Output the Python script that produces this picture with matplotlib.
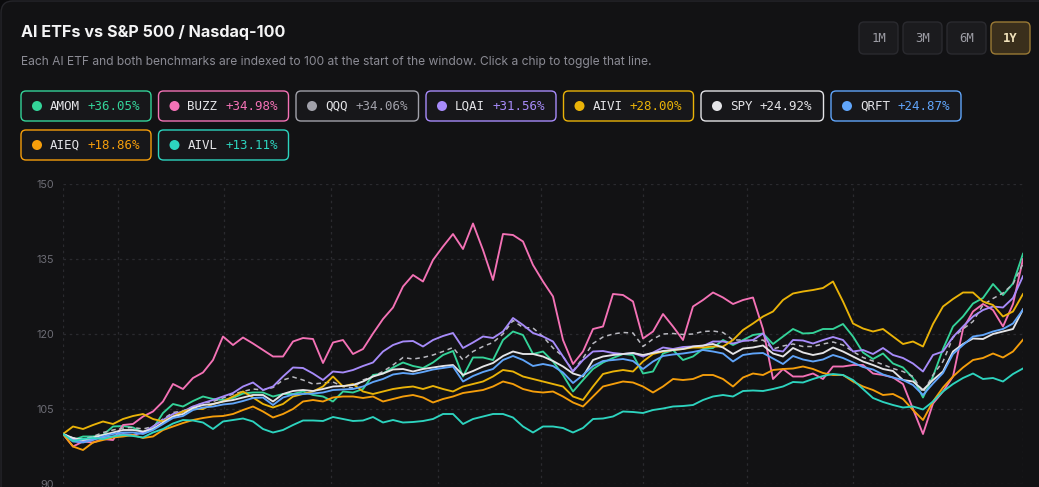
import numpy as np
import matplotlib
matplotlib.use("Agg")
import matplotlib.pyplot as plt
import matplotlib.transforms as mtransforms
from matplotlib.patches import FancyBboxPatch, Circle

# index level (start = 100), one sample every few sessions over the 1Y window
amom = [100.0, 98.8, 99.5, 99.5, 99.8, 101.5, 101.6, 101.3, 100.3, 101.1,
        104.2, 106.0, 105.5, 106.6, 107.5, 107.0, 106.8, 107.2, 108.1, 108.3,
        108.3, 107.5, 108.0, 108.0, 108.5, 107.8, 107.5, 106.5, 108.5, 108.3,
        109.0, 111.8, 112.1, 113.3, 114.3, 113.6, 113.2, 114.3, 115.8, 116.6,
        111.5, 115.3, 115.3, 114.8, 118.8, 120.5, 119.8, 116.0, 116.5, 114.5,
        111.8, 108.5, 110.8, 113.0, 114.3, 115.2, 116.0, 115.8, 112.1, 112.5,
        116.1, 116.8, 114.8, 115.5, 117.0, 117.2, 118.8, 117.8, 118.8, 119.8,
        120.1, 118.0, 119.5, 121.0, 120.1, 120.2, 121.0, 121.0, 122.0, 119.5,
        116.3, 115.0, 116.1, 114.1, 113.3, 111.2, 107.3, 111.5, 117.0, 121.5,
        123.5, 126.1, 127.2, 130.0, 127.8, 130.1, 136.05]
buzz = [100.0, 97.5, 98.5, 98.3, 99.0, 98.8, 101.8, 102.0, 103.5, 104.5,
        106.5, 110.0, 109.0, 111.2, 112.3, 114.8, 119.5, 117.8, 119.3, 118.1,
        116.8, 115.5, 115.5, 118.5, 119.2, 119.0, 114.2, 118.3, 118.8, 116.0,
        117.0, 120.1, 123.0, 125.3, 129.5, 131.8, 130.5, 134.8, 137.5, 140.0,
        137.0, 142.1, 136.8, 130.8, 140.0, 139.8, 138.5, 133.8, 130.5, 127.5,
        118.8, 114.0, 116.5, 121.0, 121.5, 128.0, 127.8, 126.5, 119.1, 120.5,
        124.0, 121.5, 118.8, 125.5, 126.8, 128.3, 127.3, 126.0, 126.8, 127.3,
        121.0, 111.0, 113.0, 111.5, 111.5, 112.1, 111.0, 113.5, 113.5, 113.8,
        113.8, 112.1, 111.8, 111.3, 110.0, 105.0, 100.0, 106.1, 108.5, 111.5,
        121.0, 124.5, 126.0, 124.8, 121.5, 126.0, 134.98]
qqq = [100.0, 99.2, 99.0, 99.5, 100.3, 100.8, 101.2, 101.3, 101.0, 101.5,
       103.0, 104.3, 104.6, 105.5, 106.2, 106.5, 107.2, 108.0, 108.5, 109.0,
       108.8, 109.3, 110.8, 111.4, 110.8, 110.0, 110.2, 110.4, 109.5, 109.2,
       110.8, 111.5, 112.5, 113.8, 115.3, 115.0, 115.3, 115.8, 116.5, 117.3,
       114.8, 116.5, 117.5, 118.3, 120.0, 122.7, 121.3, 121.2, 119.5, 117.2,
       115.5, 112.6, 115.2, 118.1, 119.4, 120.0, 120.3, 120.2, 117.5, 119.0,
       120.0, 120.1, 119.9, 120.0, 120.5, 120.6, 120.3, 118.8, 118.8, 118.6,
       118.8, 117.0, 117.6, 118.0, 117.5, 117.5, 118.0, 118.4, 117.8, 116.5,
       115.3, 114.6, 113.9, 113.1, 112.5, 111.5, 108.3, 111.8, 114.5, 119.3,
       121.0, 122.5, 125.8, 127.1, 128.2, 130.0, 134.06]
lqai = [100.0, 99.0, 98.5, 99.0, 99.3, 99.5, 100.0, 99.8, 100.3, 101.5,
        102.8, 104.0, 104.5, 105.5, 106.2, 106.8, 107.5, 108.2, 109.5, 110.3,
        108.8, 109.5, 111.5, 113.3, 113.2, 112.1, 110.8, 112.5, 112.3, 112.8,
        113.6, 114.3, 116.5, 117.8, 118.5, 118.6, 117.5, 118.8, 119.6, 120.2,
        117.2, 118.3, 119.5, 119.2, 120.5, 123.2, 121.8, 120.2, 119.5, 118.5,
        115.5, 112.5, 114.8, 116.5, 116.6, 116.2, 116.0, 116.2, 115.5, 116.3,
        117.3, 117.0, 117.4, 117.5, 117.6, 118.5, 118.5, 118.1, 118.6, 118.8,
        120.1, 116.8, 116.5, 118.8, 118.7, 118.1, 118.8, 119.4, 118.8, 116.5,
        116.8, 116.0, 117.2, 115.8, 115.2, 114.1, 112.5, 115.8, 116.5, 119.4,
        121.5, 123.5, 124.8, 125.5, 125.3, 127.2, 131.56]
aivi = [100.0, 101.5, 101.0, 101.8, 102.5, 102.0, 103.0, 103.6, 104.0, 103.0,
        102.5, 103.5, 104.5, 105.0, 105.0, 106.0, 106.5, 107.5, 108.5, 107.3,
        106.0, 105.3, 106.0, 107.5, 108.0, 108.5, 109.5, 111.5, 109.5, 110.0,
        108.5, 108.0, 108.5, 109.0, 109.3, 109.5, 109.0, 109.6, 109.0, 108.5,
        109.5, 110.0, 110.5, 111.5, 112.8, 112.5, 111.5, 111.0, 110.5, 110.0,
        109.5, 107.5, 106.8, 109.5, 112.0, 112.5, 112.8, 112.5, 114.5, 116.0,
        116.5, 116.8, 117.0, 117.3, 117.3, 117.5, 117.5, 118.8, 120.8, 122.1,
        123.5, 124.5, 126.8, 128.1, 128.5, 128.8, 129.2, 130.5, 126.5, 122.1,
        121.1, 120.5, 121.0, 119.5, 118.0, 118.5, 117.5, 122.0, 125.5, 127.0,
        128.3, 128.3, 126.5, 125.8, 123.5, 124.5, 128.0]
spy = [100.0, 99.2, 98.8, 99.3, 99.8, 100.3, 100.8, 100.8, 100.5, 101.0,
       102.3, 103.5, 104.0, 105.2, 105.8, 106.0, 106.5, 106.8, 107.3, 107.8,
       107.8, 106.5, 108.0, 108.6, 108.8, 108.6, 109.0, 109.5, 109.6, 109.8,
       110.5, 111.5, 112.1, 112.9, 113.0, 112.5, 113.0, 113.3, 113.6, 113.8,
       111.8, 112.6, 113.5, 114.2, 115.6, 116.5, 116.0, 116.0, 115.5, 114.6,
       113.5, 112.1, 111.5, 114.8, 115.5, 115.8, 116.0, 116.2, 115.8, 116.2,
       116.6, 116.8, 117.0, 117.5, 117.7, 118.0, 117.3, 116.0, 117.1, 117.3,
       117.7, 116.1, 115.5, 117.2, 116.3, 115.8, 116.2, 117.3, 116.5, 115.5,
       114.5, 113.8, 113.0, 112.6, 110.8, 110.5, 108.8, 110.8, 112.5, 116.5,
       118.0, 119.1, 119.0, 120.0, 120.5, 121.0, 124.92]
qrft = [100.0, 98.5, 98.3, 98.8, 99.5, 100.0, 100.3, 100.3, 100.0, 100.8,
        102.0, 103.2, 103.6, 104.8, 105.3, 105.5, 105.9, 106.1, 106.6, 107.2,
        107.3, 105.8, 107.3, 107.9, 108.0, 108.1, 108.3, 108.8, 108.9, 109.0,
        109.5, 110.4, 111.0, 111.9, 112.2, 112.0, 112.4, 112.9, 113.2, 113.5,
        110.5, 111.6, 112.4, 113.0, 114.8, 115.6, 114.8, 113.6, 114.0, 113.6,
        112.3, 110.2, 111.8, 113.6, 114.6, 114.8, 115.0, 114.6, 113.0, 114.5,
        115.6, 115.9, 116.1, 116.4, 116.8, 116.5, 116.1, 114.5, 115.8, 116.1,
        116.2, 115.1, 114.0, 115.6, 114.9, 114.5, 114.9, 115.8, 115.2, 114.3,
        113.4, 112.9, 111.9, 111.3, 110.8, 109.8, 107.8, 110.1, 112.2, 116.0,
        117.8, 119.5, 119.8, 120.5, 121.0, 122.1, 124.87]
aieq = [100.0, 97.5, 96.8, 98.3, 98.8, 99.3, 99.5, 99.8, 99.2, 99.5,
        100.8, 101.5, 102.2, 102.8, 103.2, 103.5, 103.6, 104.0, 104.8, 105.5,
        104.5, 103.3, 104.0, 105.0, 106.5, 106.8, 106.5, 107.3, 107.5, 107.5,
        107.2, 107.5, 106.5, 107.0, 107.5, 107.8, 107.3, 106.3, 107.0, 107.5,
        108.2, 108.5, 108.8, 109.5, 110.5, 110.0, 109.0, 108.5, 108.3, 108.5,
        107.5, 106.3, 105.5, 107.5, 109.5, 110.0, 110.5, 110.3, 109.5, 108.3,
        109.5, 111.0, 110.8, 111.0, 111.8, 111.8, 111.0, 109.5, 111.3, 112.1,
        111.8, 112.8, 113.0, 113.1, 113.5, 113.0, 112.2, 111.8, 111.8, 110.5,
        109.5, 108.8, 107.8, 108.0, 107.0, 104.8, 102.8, 106.5, 109.3, 111.5,
        113.3, 114.8, 115.2, 116.1, 115.3, 116.5, 118.86]
aivl = [100.0, 98.6, 99.0, 99.2, 99.0, 99.5, 99.8, 99.6, 99.3, 100.3,
        101.0, 102.1, 102.8, 102.7, 102.3, 101.0, 102.5, 102.8, 103.1, 102.5,
        101.0, 100.3, 100.8, 101.8, 102.7, 102.7, 102.6, 103.4, 103.0, 102.6,
        102.7, 103.4, 102.3, 102.8, 102.3, 102.4, 102.6, 103.0, 104.0, 104.0,
        102.0, 103.0, 103.5, 104.0, 104.0, 103.3, 101.5, 100.3, 101.5, 101.5,
        101.2, 100.3, 101.2, 103.0, 103.1, 103.5, 104.5, 104.4, 104.2, 104.8,
        105.1, 105.5, 105.6, 105.8, 106.8, 107.5, 107.8, 107.5, 108.6, 108.7,
        108.6, 109.0, 109.5, 110.4, 110.3, 111.0, 111.6, 112.0, 111.8, 110.8,
        109.0, 107.2, 106.4, 105.8, 105.3, 105.5, 104.9, 106.5, 108.5, 110.0,
        111.2, 112.1, 111.0, 111.2, 110.5, 112.0, 113.11]

tickers = ["AMOM", "BUZZ", "QQQ", "LQAI", "AIVI", "SPY", "QRFT", "AIEQ", "AIVL"]
series = [amom, buzz, qqq, lqai, aivi, spy, qrft, aieq, aivl]
colors = ["#34d399", "#f472b6", "#a1a1aa", "#a78bfa", "#eab308",
          "#e4e4e7", "#60a5fa", "#f59e0b", "#2dd4bf"]
ranges = ["1M", "3M", "6M", "1Y"]
active_range = "1Y"
month_marks = [0, 5.5, 16.1, 26.8, 37.5, 47.8, 58.0, 68.4, 79.0, 96.0]

W, H, DPI = 1039, 487, 100
BG = "#121214"
MONO = "DejaVu Sans Mono"
SANS = ["Inter", "DejaVu Sans"]

fig = plt.figure(figsize=(W / DPI, H / DPI), dpi=DPI, facecolor="#0b0b0d")
# pixel coords, origin top-left
px = mtransforms.Affine2D().scale(1 / DPI, -1 / DPI).translate(0, H / DPI) + fig.dpi_scale_trans

fig.add_artist(FancyBboxPatch((1, 1), W + 20, H + 40, boxstyle="round,pad=0,rounding_size=12",
                              transform=px, fc=BG, ec="#26262b", lw=1, zorder=0))

fig.text(21, 32, "AI ETFs vs S&P 500 / Nasdaq-100", transform=px, fontsize=11.6,
         fontweight="bold", color="#f4f4f5", family=SANS, va="center")
fig.text(21, 62, "Each AI ETF and both benchmarks are indexed to 100 at the start of the window. "
         "Click a chip to toggle that line.", transform=px, fontsize=8.7,
         color="#8b8b94", family=SANS, va="center")

# range buttons
for i, lab in enumerate(ranges):
    x0 = 859 + i * 44
    on = lab == active_range
    fig.add_artist(FancyBboxPatch((x0, 22), 39, 32, boxstyle="round,pad=0,rounding_size=5",
                                  transform=px, fc="#3a2f1c" if on else "#1b1b1e",
                                  ec="#9a7a35" if on else "#2a2a2f", lw=1, zorder=2))
    fig.text(x0 + 19.5, 38.5, lab, transform=px, fontsize=8.8, family=MONO,
             fontweight="bold" if on else "normal",
             color="#f3e4bd" if on else "#9d9da5", ha="center", va="center", zorder=3)

# legend chips
cw = 7.5
x, y = 21, 91
for name, vals, c in zip(tickers, series, colors):
    pct = f"{(vals[-1] / vals[0] - 1) * 100:+.2f}%"
    w = 40 + (len(name) + 1 + len(pct)) * cw
    if x + w > W - 20:
        x, y = 21, y + 39
    fig.add_artist(FancyBboxPatch((x, y), w, 30, boxstyle="round,pad=0,rounding_size=5",
                                  transform=px, fc="#17171a", ec=c, lw=1, zorder=2))
    fig.add_artist(Circle((x + 16, y + 15), 5, transform=px, fc=c, ec="none", zorder=3))
    fig.text(x + 29, y + 15.5, name, transform=px, fontsize=9, family=MONO,
             color="#e4e4e7", va="center", zorder=3)
    fig.text(x + 29 + (len(name) + 1) * cw, y + 15.5, pct, transform=px, fontsize=9,
             family=MONO, color=c, va="center", zorder=3)
    x += w + 7.5

# chart
ax = fig.add_axes([63 / W, 3 / H, 960 / W, 300 / H])
ax.set_facecolor("none")
days = np.arange(len(amom))
for name, vals, c in zip(tickers, series, colors):
    if name == "QQQ":
        ax.plot(days, vals, color="#b9b9c0", lw=1.1, ls=(0, (3, 2.5)), zorder=3)
    else:
        ax.plot(days, vals, color=c, lw=1.35, solid_joinstyle="round", zorder=3)

ax.set_xlim(days[0], days[-1])
ax.set_ylim(90, 150)
ax.set_yticks([90, 105, 120, 135, 150])
ax.set_xticks(month_marks)
ax.set_xticklabels([])
ax.tick_params(length=0, pad=6.5, labelsize=7.8, labelcolor="#6c6c74")
for lbl in ax.get_yticklabels():
    lbl.set_family(SANS)
ax.grid(True, color="#2a2a2f", lw=0.9, ls=(0, (2, 3)))
for s in ax.spines.values():
    s.set_visible(False)

fig.savefig("out.png", dpi=DPI, facecolor=fig.get_facecolor())
